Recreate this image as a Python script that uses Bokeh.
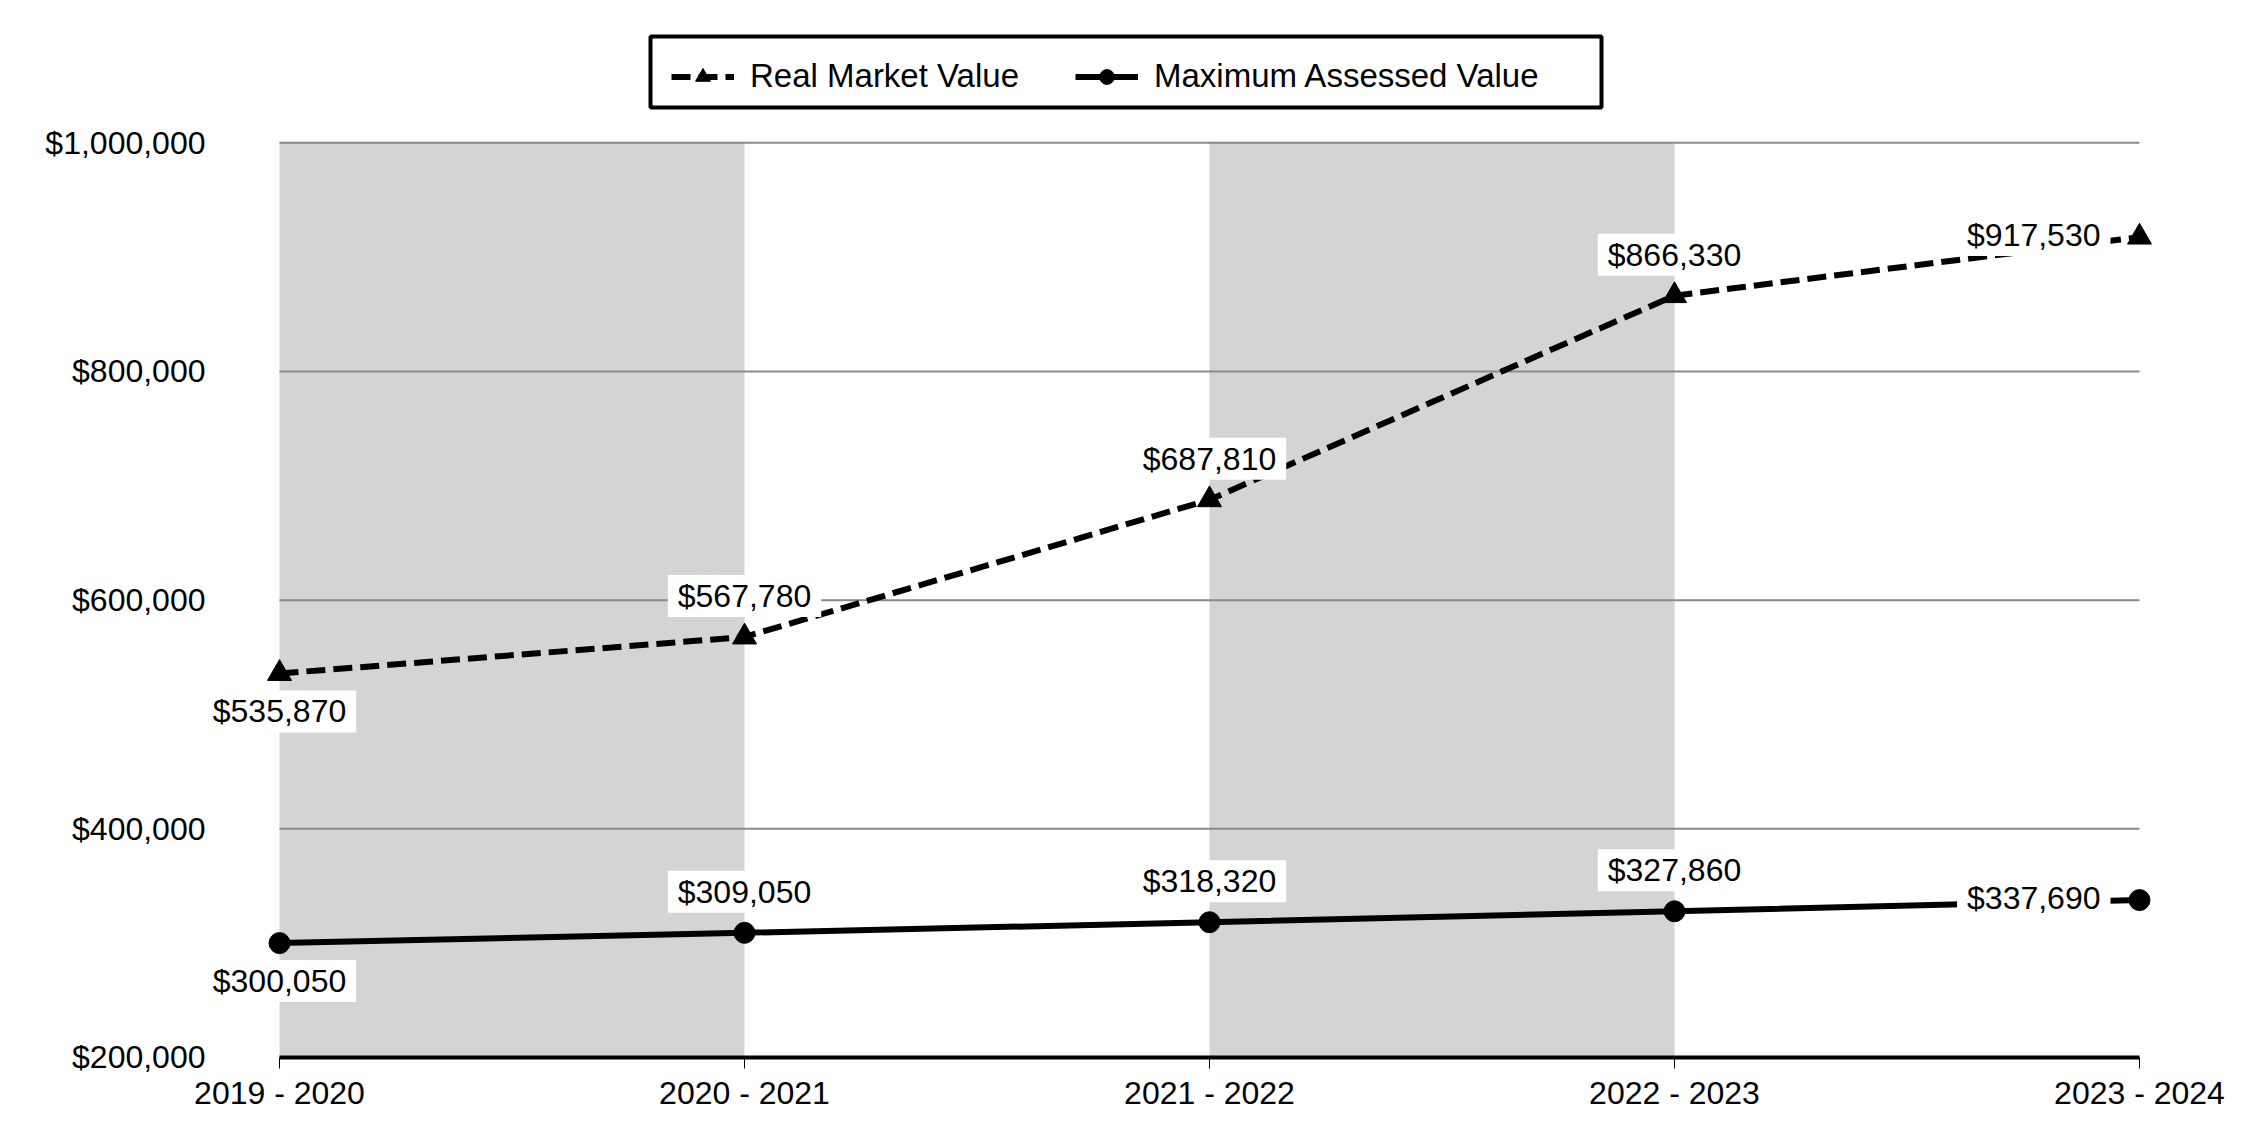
from bokeh.plotting import figure
from bokeh.models import (Range1d, FixedTicker, NumeralTickFormatter, Label, Legend, LegendItem,
                          BoxAnnotation)
from bokeh.embed import file_html
from bokeh.resources import INLINE

# ---- data ----
years = ["2019 - 2020", "2020 - 2021", "2021 - 2022", "2022 - 2023", "2023 - 2024"]
real_market = [535870, 567780, 687810, 866330, 917530]
max_assessed = [300050, 309050, 318320, 327860, 337690]
y_ticks = [200000, 400000, 600000, 800000, 1000000]

FONT = "Liberation Sans"
x = list(range(len(years)))

# ---- layout constants (pixels) ----
W, H = 2234, 1124
FRAME_L, FRAME_R_BORDER, FRAME_T, FRAME_B_BORDER = 200, 49, 28, 59
PX_PER_CAT = 465
LEFT_PAD_PX, RIGHT_PAD_PX = 79, 46
x_start = x[0] - LEFT_PAD_PX / PX_PER_CAT
x_end = x[-1] + RIGHT_PAD_PX / PX_PER_CAT
Y0, Y1 = 193000, 1100000
frame_h = H - FRAME_T - FRAME_B_BORDER
frame_bottom_px = H - FRAME_B_BORDER

def px_to_x(px):
    return x_start + (px - FRAME_L) / PX_PER_CAT

def py_to_y(py):
    return Y0 + (frame_bottom_px - py) * (Y1 - Y0) / frame_h

p = figure(width=W, height=H, output_backend="svg", toolbar_location=None,
           x_range=Range1d(x_start, x_end), y_range=Range1d(Y0, Y1),
           min_border_left=FRAME_L, min_border_right=FRAME_R_BORDER,
           min_border_top=FRAME_T, min_border_bottom=FRAME_B_BORDER)
p.outline_line_color = None
p.background_fill_color = "white"
p.border_fill_color = "white"

# alternating shaded bands
for i in range(0, len(years) - 1, 2):
    p.quad(left=x[i], right=x[i + 1], bottom=y_ticks[0], top=y_ticks[-1],
           fill_color="#d4d4d4", line_color=None, level="image")

# horizontal gridlines spanning only the category range
gy = y_ticks[1:]
p.segment(x0=[x[0]] * len(gy), y0=gy, x1=[x[-1]] * len(gy), y1=gy,
          line_color="#8a8a8a", line_width=2, level="underlay")

r1 = p.line(x, real_market, line_color="black", line_width=6, line_dash="19 8")
s1 = p.scatter(x, real_market, marker="triangle", size=24, fill_color="black", line_color="black")
r2 = p.line(x, max_assessed, line_color="black", line_width=6)
s2 = p.scatter(x, max_assessed, marker="circle", size=21, fill_color="black", line_color="black")

# baseline (category axis line)
p.segment(x0=[x[0]], y0=[y_ticks[0]], x1=[x[-1]], y1=[y_ticks[0]], line_color="black", line_width=4)

# data labels
placement = ["below", "above", "above", "above", "left"]

def add_labels(vals):
    for i, v in enumerate(vals):
        pos = placement[i]
        kw = dict(x=x[i], y=v, text=f"${v:,}", text_font=FONT, text_font_size="32px",
                  text_color="black", background_fill_color="white", text_baseline="middle",
                  padding=(10, 3))
        if pos == "above":
            kw.update(text_align="center", y_offset=41)
        elif pos == "below":
            kw.update(text_align="center", y_offset=-38)
        else:
            kw.update(text_align="right", x_offset=-29, y_offset=2)
        p.add_layout(Label(**kw))

add_labels(real_market)
add_labels(max_assessed)

# axes
xa = p.xaxis[0]
xa.ticker = FixedTicker(ticks=x)
xa.major_label_overrides = {i: y for i, y in zip(x, years)}
xa.axis_line_color = None
xa.major_tick_line_color = "black"
xa.major_tick_line_width = 1
xa.major_tick_out = 3
xa.major_tick_in = 8
xa.minor_tick_line_color = None
xa.major_label_text_font = FONT
xa.major_label_text_font_size = "32px"
xa.major_label_text_color = "black"
xa.major_label_standoff = 6

ya = p.yaxis[0]
ya.ticker = FixedTicker(ticks=y_ticks)
ya.formatter = NumeralTickFormatter(format="$0,0")
ya.axis_line_color = None
ya.major_tick_line_color = None
ya.minor_tick_line_color = None
ya.major_tick_out = 0
ya.major_tick_in = 0
ya.major_label_text_font = FONT
ya.major_label_text_font_size = "32px"
ya.major_label_text_color = "black"
ya.major_label_standoff = -5

p.xgrid.visible = False
p.ygrid.visible = False

# legend frame box
p.add_layout(BoxAnnotation(left=px_to_x(650), right=px_to_x(1601),
                           top=py_to_y(36), bottom=py_to_y(107),
                           fill_color="white", fill_alpha=1.0,
                           line_color="black", line_alpha=1.0, line_width=4))

legend = Legend(items=[LegendItem(label="Real Market Value", renderers=[r1, s1]),
                       LegendItem(label="Maximum Assessed Value", renderers=[r2, s2])],
                orientation="horizontal", location=(471, 970), margin=0, padding=17,
                spacing=56, glyph_width=63, glyph_height=37, label_standoff=16,
                label_text_font=FONT, label_text_font_size="33px", label_text_color="black",
                border_line_color=None, background_fill_alpha=0.0, label_height=37)
p.add_layout(legend)

open("out.html", "w").write(file_html(p, INLINE))
